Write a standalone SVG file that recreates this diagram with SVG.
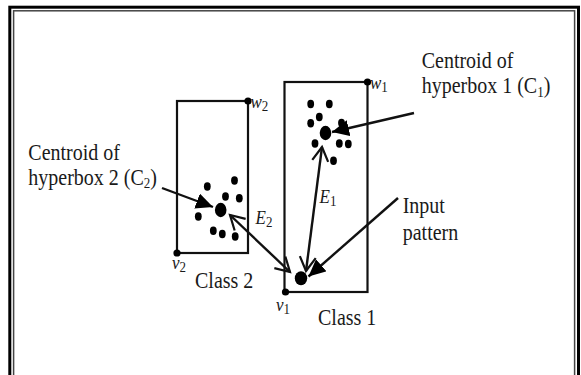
<svg xmlns="http://www.w3.org/2000/svg" width="581" height="375" viewBox="0 0 581 375">
<defs>
<style>
.t{font-family:"Liberation Serif","Times New Roman",serif;font-size:20px;fill:#1a1a1a}
.i{font-family:"Liberation Serif","Times New Roman",serif;font-size:17px;font-style:italic;fill:#1a1a1a}
.sub{font-size:13px;font-style:normal}
.box{fill:none;stroke:#111;stroke-width:2.2}
.dot{fill:#000}
.ln{fill:none;stroke:#111;stroke-width:2.4}
</style>
<marker id="fillhead" markerUnits="userSpaceOnUse" markerWidth="19" markerHeight="17" refX="17" refY="8" orient="auto">
<path d="M0,0 L17,8 L0,16 Z" fill="#000"/>
</marker>
<marker id="openhead" markerUnits="userSpaceOnUse" markerWidth="18" markerHeight="20" refX="15" refY="9" orient="auto-start-reverse">
<path d="M1,1 L15,9 L1,17" fill="none" stroke="#111" stroke-width="2.2"/>
</marker>
</defs>
<rect width="581" height="375" fill="#fff"/>
<g id="frame">
<rect x="9.8" y="7.2" width="568.7" height="380" fill="none" stroke="#000" stroke-width="3"/>
<rect x="13.6" y="10.8" width="561" height="380" fill="none" stroke="#444" stroke-width="1.5"/>
</g>
<g id="hyperbox2">
<rect class="box" x="177" y="101" width="71" height="152"/>
<circle class="dot" cx="248" cy="101" r="3.6"/>
<circle class="dot" cx="177" cy="253" r="3.6"/>
<text class="i" transform="matrix(1 0 0 1.15 250.5 107.5)">w<tspan class="sub" dy="3">2</tspan></text>
<text class="i" transform="matrix(1 0 0 1.15 172 268.5)">v<tspan class="sub" dy="3">2</tspan></text>
<text class="t" transform="matrix(1 0 0 1.15 195 288.3)">Class 2</text>
<g id="cluster2">
<ellipse class="dot" cx="207.3" cy="186.5" rx="3.4" ry="4.2"/>
<ellipse class="dot" cx="234.5" cy="180.5" rx="3.4" ry="4.2"/>
<ellipse class="dot" cx="225.5" cy="196.5" rx="3.4" ry="4.2"/>
<ellipse class="dot" cx="239.3" cy="198.3" rx="3.4" ry="4.2"/>
<ellipse class="dot" cx="198.3" cy="216.5" rx="3.4" ry="4.2"/>
<ellipse class="dot" cx="220.7" cy="210" rx="5.8" ry="7.2"/>
<ellipse class="dot" cx="213.3" cy="230.7" rx="3.4" ry="4.2"/>
<ellipse class="dot" cx="222.3" cy="234" rx="3.4" ry="4.2"/>
<ellipse class="dot" cx="235.2" cy="236.5" rx="3.4" ry="4.2"/>
</g>
</g>
<g id="hyperbox1">
<rect class="box" x="284.5" y="82" width="83" height="210"/>
<circle class="dot" cx="367.5" cy="82" r="3.6"/>
<circle class="dot" cx="285.5" cy="292" r="3.6"/>
<text class="i" transform="matrix(1 0 0 1.15 370 88.5)">w<tspan class="sub" dy="3">1</tspan></text>
<text class="i" transform="matrix(1 0 0 1.15 276 310.5)">v<tspan class="sub" dy="3">1</tspan></text>
<text class="t" transform="matrix(1 0 0 1.15 318 325)">Class 1</text>
<g id="cluster1">
<ellipse class="dot" cx="310.7" cy="104" rx="3.4" ry="4.2"/>
<ellipse class="dot" cx="329.3" cy="104" rx="3.4" ry="4.2"/>
<ellipse class="dot" cx="319.3" cy="117" rx="3.4" ry="4.2"/>
<ellipse class="dot" cx="310.7" cy="123.3" rx="3.4" ry="4.2"/>
<ellipse class="dot" cx="341.5" cy="123" rx="3.4" ry="4.2"/>
<ellipse class="dot" cx="325.5" cy="133" rx="5.8" ry="7.2"/>
<ellipse class="dot" cx="315" cy="143.5" rx="3.4" ry="4.2"/>
<ellipse class="dot" cx="339.3" cy="143.5" rx="3.4" ry="4.2"/>
<ellipse class="dot" cx="348.3" cy="144" rx="3.4" ry="4.2"/>
<ellipse class="dot" cx="333.5" cy="160.7" rx="3.4" ry="4.2"/>
</g>
</g>
<g id="input">
<ellipse class="dot" cx="301" cy="278.3" rx="6.2" ry="7"/>
<text class="t" transform="matrix(1 0 0 1.15 402.7 213.3)">Input</text>
<text class="t" transform="matrix(1 0 0 1.15 402.7 239.5)">pattern</text>
</g>
<g id="label-c1">
<text class="t" transform="matrix(1 0 0 1.15 421.7 68.3)">Centroid of</text>
<text class="t" transform="matrix(1 0 0 1.15 421.7 93.3)">hyperbox 1 (C<tspan class="sub" dy="3">1</tspan><tspan dy="-3">)</tspan></text>
</g>
<g id="label-c2">
<text class="t" transform="matrix(1 0 0 1.15 28.3 159.5)">Centroid of</text>
<text class="t" transform="matrix(1 0 0 1.15 28.3 184.5)">hyperbox 2 (C<tspan class="sub" dy="3">2</tspan><tspan dy="-3">)</tspan></text>
</g>
<g id="connectors">
<line class="ln" x1="414" y1="113" x2="332" y2="132" marker-end="url(#fillhead)"/>
<line class="ln" x1="162" y1="188" x2="213" y2="207" marker-end="url(#fillhead)"/>
<line class="ln" x1="398" y1="198" x2="308.5" y2="276.5" marker-end="url(#fillhead)"/>
<line class="ln" x1="322" y1="147" x2="306" y2="271" marker-start="url(#openhead)" marker-end="url(#openhead)"/>
<line class="ln" x1="230" y1="215" x2="290" y2="272" marker-start="url(#openhead)" marker-end="url(#openhead)"/>
<text class="i" transform="matrix(1 0 0 1.15 319.5 203)">E<tspan class="sub" dy="3">1</tspan></text>
<text class="i" transform="matrix(1 0 0 1.15 255.5 223.5)">E<tspan class="sub" dy="3">2</tspan></text>
</g>
</svg>
